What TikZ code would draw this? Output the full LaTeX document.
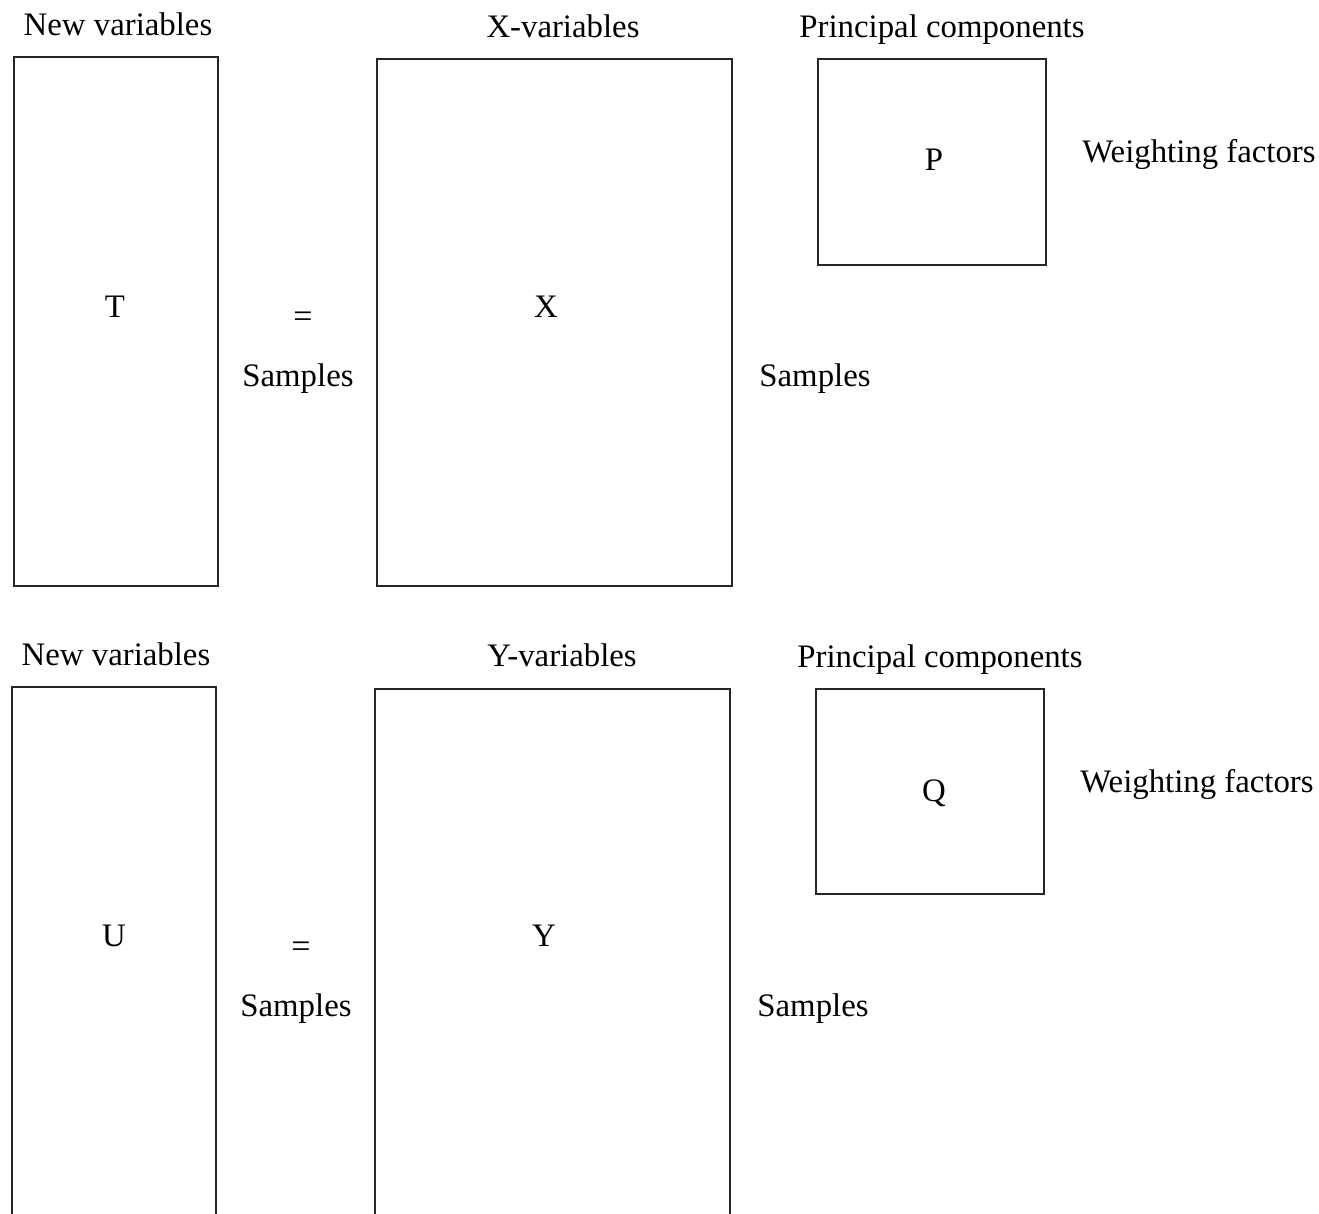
\documentclass[tikz,border=0pt]{standalone}
\usepackage{fontspec}
\setmainfont{Liberation Serif}
\begin{document}
\begin{tikzpicture}[x=1pt,y=-1pt,
  box/.style={draw=black!85,line width=1.6pt},
  lbl/.style={anchor=base,inner sep=0pt,font=\fontsize{32.8}{38}\selectfont},
  eq/.style={anchor=center,inner sep=0pt,font=\fontsize{34}{38}\selectfont}]
\useasboundingbox (0,0) rectangle (1319,1213);
\clip (0,0) rectangle (1319,1213);
% ---- top block ----
\draw[box] (14,57) rectangle (218,586);
\draw[box] (377,59) rectangle (732,586);
\draw[box] (818,59) rectangle (1046,265);
\node[lbl] (nv1) at (118,35) {New variables};
\node[lbl] (xv) at (563,37) {X-variables};
\node[lbl] (pc1) at (942,37) {Principal components};
\node[lbl] (wf1) at (1199,162) {Weighting factors};
\node[lbl] (P) at (934,170) {P};
\node[lbl] (T) at (115,317) {T};
\node[lbl] (X) at (546,317) {X};
\node[eq] (eq1) at (303,320) {=};
\node[lbl] (s1) at (298,386) {Samples};
\node[lbl] (s2) at (815,386) {Samples};
% ---- bottom block ----
\draw[box] (12,1220) -- (12,687) -- (216,687) -- (216,1220);
\draw[box] (375,1220) -- (375,689) -- (730,689) -- (730,1220);
\draw[box] (816,689) rectangle (1044,894);
\node[lbl] (nv2) at (116,665) {New variables};
\node[lbl] (yv) at (562,666) {Y-variables};
\node[lbl] (pc2) at (940,667) {Principal components};
\node[lbl] (wf2) at (1197,792) {Weighting factors};
\node[lbl] (Q) at (934,801) {Q};
\node[lbl] (U) at (114,946) {U};
\node[lbl] (Y) at (544,946) {Y};
\node[eq] (eq2) at (301,950) {=};
\node[lbl] (s3) at (296,1016) {Samples};
\node[lbl] (s4) at (813,1016) {Samples};
\end{tikzpicture}
\end{document}
